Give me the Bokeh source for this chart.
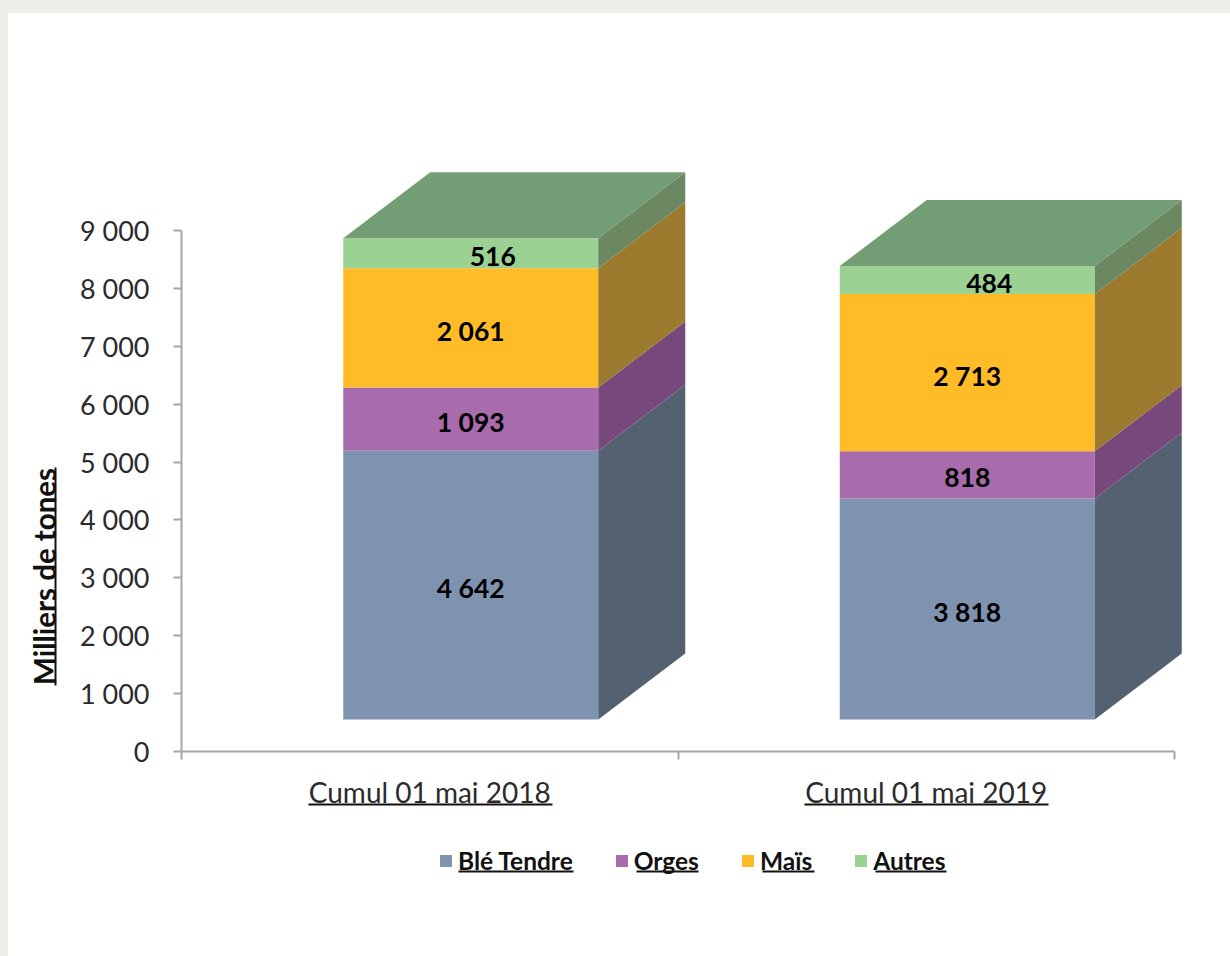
from math import pi
from bokeh.plotting import figure
from bokeh.embed import file_html
from bokeh.resources import INLINE
from bokeh.core.properties import value
from bokeh.models import (ColumnDataSource, FixedTicker, LinearAxis, Label, BoxAnnotation,
                          Legend, LegendItem, Range1d)

categories = ["Cumul 01 mai 2018", "Cumul 01 mai 2019"]
ble_tendre = [4642, 3818]
orges = [1093, 818]
mais = [2061, 2713]
autres = [516, 484]
series_names = ["Blé Tendre", "Orges", "Maïs", "Autres"]
y_ticks = [0, 1000, 2000, 3000, 4000, 5000, 6000, 7000, 8000, 9000]
y_tick_labels = ["0", "1 000", "2 000", "3 000", "4 000", "5 000", "6 000", "7 000", "8 000", "9 000"]
y_title = "Milliers de tones"

front_colors = ["#7E93B0", "#A86BAB", "#FFBC27", "#9BD293"]
side_colors = ["#536171", "#76487B", "#9C7B2F", "#6B8862"]
top_color = "#739D75"
label_x_offsets = [0, 0, 0, 22]

# Pixel geometry of the picture (the figure fills the page from its corner)
W, H = 1214, 940
AX_L, AX_R, AX_B = 181, 1174, 751
PX_X = (AX_R - AX_L) / 2
PX_Y = 521 / 9000


def sx(px):
    return (px - AX_L) / PX_X


def sy(py):
    return (AX_B - py) / PX_Y


BAR_W = 255 / PX_X
SHIFT = 41 / PX_X
DEPTH_X = 87 / PX_X
DEPTH_Y = 66 / PX_Y
FLOOR = 32 / PX_Y

p = figure(width=W, height=H, output_backend="svg", toolbar_location=None,
           x_range=Range1d(sx(0), sx(W)), y_range=Range1d(sy(H), sy(0)),
           x_axis_type=None, y_axis_type=None,
           min_border_left=0, min_border_right=0, min_border_top=0, min_border_bottom=0)
p.border_fill_color = None
p.background_fill_color = None
p.outline_line_color = None

AXIS_COLOR = "#A6A6A9"
TEXT_COLOR = "#2B2B2B"

yax = LinearAxis(ticker=FixedTicker(ticks=y_ticks), bounds=(0, 9000), fixed_location=0,
                 major_label_overrides=dict(zip(y_ticks, y_tick_labels)))
yax.axis_line_color = AXIS_COLOR
yax.axis_line_width = 2
yax.major_tick_line_color = AXIS_COLOR
yax.major_tick_line_width = 2
yax.major_tick_out = 8
yax.major_tick_in = 0
yax.minor_tick_line_color = None
yax.major_label_text_font = "Lato"
yax.major_label_text_font_size = "27px"
yax.major_label_text_color = TEXT_COLOR
yax.major_label_standoff = 24
p.add_layout(yax, "left")

xax = LinearAxis(ticker=FixedTicker(ticks=[0, 1, 2]), bounds=(0, 2), fixed_location=0,
                 major_label_overrides={0: "", 1: "", 2: ""})
xax.axis_line_color = AXIS_COLOR
xax.axis_line_width = 2
xax.major_tick_line_color = AXIS_COLOR
xax.major_tick_line_width = 2
xax.major_tick_out = 8
xax.major_tick_in = 0
xax.minor_tick_line_color = None
xax.major_label_text_font_size = "0px"
xax.major_label_standoff = 0
p.add_layout(xax, "below")

centers = [i + 0.5 for i in range(len(categories))]
xlab = LinearAxis(ticker=FixedTicker(ticks=centers), fixed_location=0,
                  major_label_overrides=dict(zip(centers, categories)))
xlab.axis_line_color = None
xlab.major_tick_line_color = None
xlab.minor_tick_line_color = None
xlab.major_tick_out = 0
xlab.major_tick_in = 0
xlab.major_label_text_font = "Lato"
xlab.major_label_text_font_size = "28px"
xlab.major_label_text_color = TEXT_COLOR
xlab.major_label_standoff = 23
p.add_layout(xlab, "below")

# stacked faces built from the series
stack = [ble_tendre, orges, mais, autres]
bar_x = [c + SHIFT for c in centers]
legend_items = []
bottoms = [FLOOR] * len(categories)
for k, vals in enumerate(stack):
    tops = [b + v for b, v in zip(bottoms, vals)]
    src = ColumnDataSource(dict(
        x=bar_x, bottom=bottoms, top=tops,
        mid=[(b + t) / 2 for b, t in zip(bottoms, tops)],
        txt=[f"{v:,}".replace(",", " ") for v in vals]))
    r = p.vbar(x="x", bottom="bottom", top="top", width=BAR_W, source=src,
               fill_color=front_colors[k], line_color=None)
    legend_items.append(LegendItem(label=series_names[k], renderers=[r]))
    xs, ys = [], []
    for x, b, t in zip(bar_x, bottoms, tops):
        e = x + BAR_W / 2
        xs.append([e, e + DEPTH_X, e + DEPTH_X, e])
        ys.append([b, b + DEPTH_Y, t + DEPTH_Y, t])
    p.patches(xs, ys, fill_color=side_colors[k], line_color=None)
    p.text(x="x", y="mid", text="txt", source=src, text_font=value("Lato"),
           text_font_style="bold", text_font_size="26.5px", text_color="#000000",
           text_align="center", text_baseline="middle", x_offset=label_x_offsets[k], y_offset=3)
    bottoms = tops

xs, ys = [], []
for x, t in zip(bar_x, bottoms):
    l, e = x - BAR_W / 2, x + BAR_W / 2
    xs.append([l, e, e + DEPTH_X, l + DEPTH_X])
    ys.append([t, t, t + DEPTH_Y, t + DEPTH_Y])
p.patches(xs, ys, fill_color=top_color, line_color=None)


def underline(x0, x1, y, th=2):
    p.add_layout(BoxAnnotation(left=sx(x0), right=sx(x1), top=sy(y - th / 2), bottom=sy(y + th / 2),
                               fill_color="#111111", fill_alpha=1, line_color=None, level="overlay"))


# category label underlines
underline(308, 552, 804)
underline(804, 1048, 804)

# axis title
p.add_layout(Label(x=sx(44), y=sy(576), text=y_title, angle=pi / 2, text_align="center",
                   text_baseline="middle", text_font="Lato", text_font_style="bold",
                   text_font_size="29.5px", text_color="#111111"))
p.add_layout(BoxAnnotation(left=sx(54), right=sx(56), top=sy(467), bottom=sy(685),
                           fill_color="#111111", fill_alpha=1, line_color=None, level="overlay"))

legend = Legend(items=legend_items, orientation="horizontal", location=(438, H - 875))
legend.background_fill_alpha = 0
legend.border_line_color = None
legend.glyph_width = 15
legend.glyph_height = 15
legend.label_standoff = 5
legend.spacing = 41
legend.padding = 0
legend.margin = 0
legend.label_text_font = "Lato"
legend.label_text_font_style = "bold"
legend.label_text_font_size = "24.5px"
legend.label_text_color = "#111111"
p.add_layout(legend, "center")

# legend underlines
underline(458, 573, 871)
underline(636, 698, 871)
underline(762, 814, 871)
underline(875, 946, 871)

css = ("<style>html{background:linear-gradient(#EEEEE9 13px,transparent 13px),"
       "linear-gradient(90deg,#EEEEE9 8px,#FFFFFF 8px)}</style></head>")
html = file_html(p, INLINE).replace("</head>", css, 1)
open("out.html", "w").write(html)
